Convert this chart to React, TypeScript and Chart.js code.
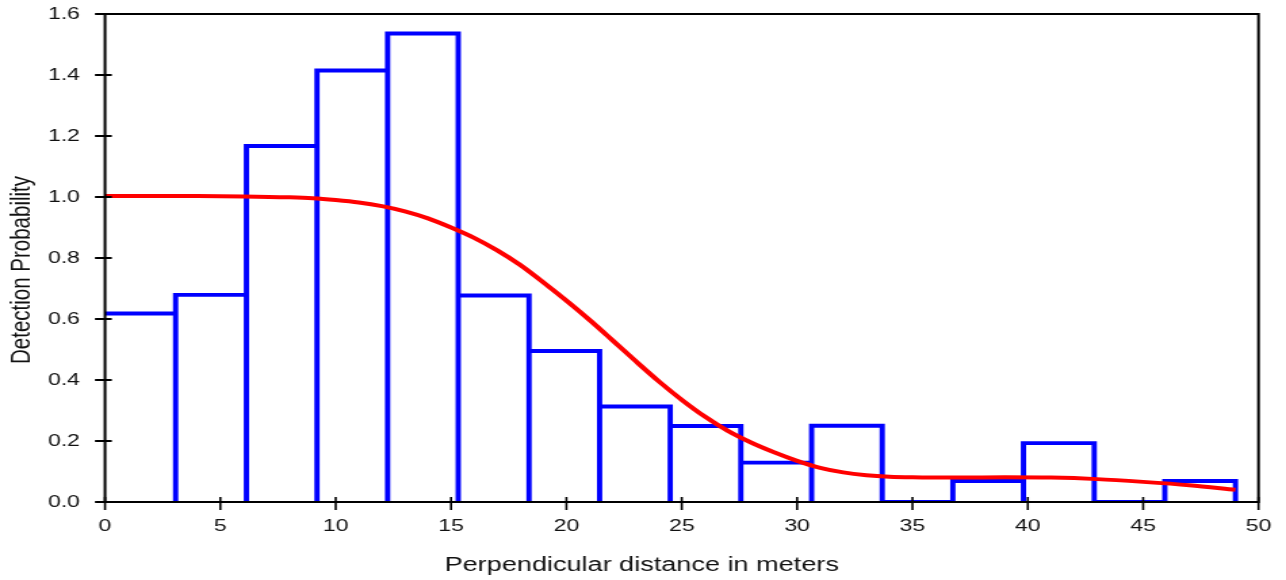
import React, { useEffect, useRef } from "react";
import { Chart, registerables } from "chart.js";

Chart.register(...registerables);

// ---- data ----
const binEdges = [0, 3.06, 6.13, 9.19, 12.25, 15.31, 18.38, 21.44, 24.5, 27.56, 30.63, 33.69, 36.75, 39.81, 42.88, 45.94, 49];
const binHeights = [0.618, 0.679, 1.167, 1.415, 1.536, 0.677, 0.495, 0.313, 0.249, 0.129, 0.25, 0.0, 0.069, 0.193, 0.0, 0.069];

const curveX = [0, 2, 4, 6, 8, 9, 10, 11, 12, 13, 14, 15, 16, 17, 18, 19, 20, 21, 22, 23, 24, 25, 26, 27, 28, 29, 30, 31, 32, 33, 34, 35, 37, 39, 41, 43, 45, 47, 49];
const curveY = [1.003, 1.003, 1.003, 1.002, 0.999, 0.996, 0.99, 0.982, 0.97, 0.953, 0.93, 0.9, 0.866, 0.825, 0.777, 0.72, 0.66, 0.597, 0.53, 0.462, 0.396, 0.335, 0.28, 0.233, 0.195, 0.163, 0.135, 0.112, 0.097, 0.088, 0.083, 0.081, 0.08, 0.081, 0.08, 0.075, 0.066, 0.055, 0.04];

const xTicks = [0, 5, 10, 15, 20, 25, 30, 35, 40, 45, 50];
const yTicks = [0, 0.2, 0.4, 0.6, 0.8, 1.0, 1.2, 1.4, 1.6];

const xTitle = "Perpendicular distance in meters";
const yTitle = "Detection Probability";

// ---- layout (canvas is drawn narrower and stretched horizontally, like the reference) ----
const CANVAS_W = 950;
const CANVAS_H = 580;
const DISPLAY_W = 1286;
const SX = DISPLAY_W / CANVAS_W;
const AREA_LEFT = 105 / SX;
const AREA_RIGHT = 1258.5 / SX;
const PAD_TOP = 14;
const AREA_BOTTOM = 502;
const FONT = "'Liberation Sans', Arial, Helvetica, sans-serif";

const framePlugin = {
  id: "frame",
  afterDatasetsDraw(chart: any) {
    const { ctx, chartArea: a, scales } = chart;
    ctx.save();
    ctx.strokeStyle = "#000";
    ctx.lineWidth = 2;
    ctx.strokeRect(a.left, a.top, a.right - a.left, a.bottom - a.top);
    ctx.lineWidth = 2;
    ctx.beginPath();
    scales.y.ticks.forEach((t: any) => {
      const y = scales.y.getPixelForValue(t.value);
      ctx.moveTo(a.left - 7.4, y);
      ctx.lineTo(a.left + 5, y);
    });
    ctx.stroke();
    ctx.lineWidth = 1.6;
    ctx.beginPath();
    scales.x.ticks.forEach((t: any) => {
      const x = scales.x.getPixelForValue(t.value);
      ctx.moveTo(x, a.bottom - 5);
      ctx.lineTo(x, a.bottom + 8);
    });
    ctx.stroke();
    ctx.restore();
  },
  afterDraw(chart: any) {
    const { ctx } = chart;
    ctx.save();
    ctx.fillStyle = "#111";
    ctx.font = `20px ${FONT}`;
    ctx.textAlign = "center";
    ctx.textBaseline = "alphabetic";
    ctx.fillText(xTitle, 641.7 / SX, 571);
    ctx.font = `20.5px ${FONT}`;
    ctx.translate(21.5 / SX, 270);
    ctx.rotate(-Math.PI / 2);
    ctx.textBaseline = "middle";
    ctx.fillText(yTitle, 0, 0);
    ctx.restore();
  },
};

export default function App() {
  const ref = useRef<HTMLCanvasElement | null>(null);

  useEffect(() => {
    if (!ref.current) return;
    const histPts: { x: number; y: number }[] = [];
    for (let i = 0; i < binHeights.length; i++) {
      const x0 = binEdges[i];
      const x1 = binEdges[i + 1];
      const h = binHeights[i];
      if (i > 0) histPts.push({ x: x0, y: 0 });
      histPts.push({ x: x0, y: h }, { x: x1, y: h }, { x: x1, y: 0 });
    }
    const curvePts = curveX.map((x, i) => ({ x, y: curveY[i] }));

    const chart = new Chart(ref.current, {
      type: "line",
      data: {
        datasets: [
          {
            label: "Detection function",
            data: curvePts,
            borderColor: "#ff0000",
            borderWidth: 4,
            pointRadius: 0,
            cubicInterpolationMode: "monotone",
            fill: false,
          },
          {
            label: "Histogram",
            data: histPts,
            borderColor: "#0000ff",
            borderWidth: 3.9,
            pointRadius: 0,
            tension: 0,
            fill: false,
            borderJoinStyle: "miter",
          },
        ],
      },
      options: {
        animation: false,
        responsive: false,
        devicePixelRatio: 1,
        layout: {
          padding: { left: 0, top: PAD_TOP, right: CANVAS_W - AREA_RIGHT, bottom: 0 },
        },
        plugins: {
          legend: { display: false },
          tooltip: { enabled: false },
        },
        events: [],
        scales: {
          x: {
            type: "linear",
            min: 0,
            max: 50,
            afterBuildTicks: (s: any) => {
              s.ticks = xTicks.map((v) => ({ value: v }));
            },
            afterFit: (s: any) => {
              s.height = CANVAS_H - AREA_BOTTOM;
            },
            ticks: {
              autoSkip: false,
              maxRotation: 0,
              color: "#111",
              font: { size: 17, family: FONT },
              padding: 0,
            },
            grid: {
              drawOnChartArea: false,
              drawTicks: true,
              tickLength: 14,
              tickColor: "rgba(0,0,0,0)",
              color: "rgba(0,0,0,0)",
            },
            border: { display: false },
          },
          y: {
            type: "linear",
            min: 0,
            max: 1.6,
            afterBuildTicks: (s: any) => {
              s.ticks = yTicks.map((v) => ({ value: v }));
            },
            afterFit: (s: any) => {
              s.width = AREA_LEFT;
            },
            ticks: {
              autoSkip: false,
              color: "#111",
              font: { size: 17, family: FONT },
              padding: 0,
              callback: (v: any) => Number(v).toFixed(1),
            },
            grid: {
              drawOnChartArea: false,
              drawTicks: true,
              tickLength: 18.5,
              tickColor: "rgba(0,0,0,0)",
              color: "rgba(0,0,0,0)",
            },
            border: { display: false },
          },
        },
      },
      plugins: [framePlugin],
    } as any);
    return () => chart.destroy();
  }, []);

  return (
    <div style={{ position: "fixed", left: 0, top: 0, width: DISPLAY_W, height: CANVAS_H, background: "#fff" }}>
      <canvas
        ref={ref}
        width={CANVAS_W}
        height={CANVAS_H}
        style={{ width: `${DISPLAY_W}px`, height: `${CANVAS_H}px`, display: "block" }}
      />
    </div>
  );
}
